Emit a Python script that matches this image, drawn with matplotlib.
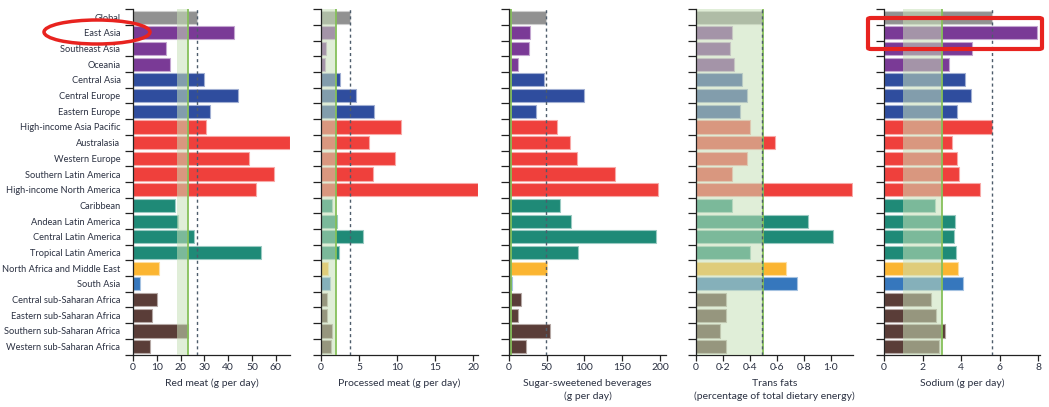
import matplotlib
matplotlib.use("Agg")
import matplotlib.pyplot as plt
from matplotlib.patches import Ellipse, FancyBboxPatch
from matplotlib.colors import to_rgb

regions = ["Global", "East Asia", "Southeast Asia", "Oceania", "Central Asia",
           "Central Europe", "Eastern Europe", "High-income Asia Pacific",
           "Australasia", "Western Europe", "Southern Latin America",
           "High-income North America", "Caribbean", "Andean Latin America",
           "Central Latin America", "Tropical Latin America",
           "North Africa and Middle East", "South Asia",
           "Central sub-Saharan Africa", "Eastern sub-Saharan Africa",
           "Southern sub-Saharan Africa", "Western sub-Saharan Africa"]
groups = ["global", "asia", "asia", "asia", "europe", "europe", "europe",
          "hi", "hi", "hi", "hi", "hi", "latam", "latam", "latam", "latam",
          "name", "sasia", "ssa", "ssa", "ssa", "ssa"]

red_meat = [27, 42.5, 13.9, 15.5, 30, 44, 32.4, 30.5, 66, 48.7, 59.3, 51.5,
            17.6, 19, 25.6, 53.8, 11, 3, 10, 8, 23.3, 7.3]
processed_meat = [3.8, 1.9, 0.66, 0.5, 2.5, 4.6, 6.9, 10.5, 6.3, 9.7, 6.8, 20.6,
                  1.5, 2.1, 5.5, 2.3, 0.9, 1.2, 0.8, 0.75, 1.45, 1.35]
ssb = [49, 28, 26.7, 12, 45.8, 100, 35.6, 64, 81, 89.8, 140, 197,
       68, 81.8, 194.7, 91, 50, 3.6, 16, 12, 54, 22]
trans_fats = [0.49, 0.267, 0.25, 0.28, 0.34, 0.38, 0.33, 0.40, 0.59, 0.38, 0.265, 1.16,
              0.267, 0.83, 1.02, 0.40, 0.665, 0.75, 0.22, 0.22, 0.175, 0.22]
sodium = [5.58, 7.9, 4.58, 3.35, 4.2, 4.5, 3.8, 5.6, 3.5, 3.78, 3.9, 4.97,
          2.64, 3.68, 3.63, 3.75, 3.82, 4.1, 2.45, 2.7, 3.18, 2.83]

xlabels = ["Red meat (g per day)", "Processed meat (g per day)",
           "Sugar-sweetened beverages\n(g per day)",
           "Trans fats\n(percentage of total dietary energy)",
           "Sodium (g per day)"]
xticks = [[0, 10, 20, 30, 40, 50, 60], [0, 5, 10, 15, 20], [0, 50, 100, 150, 200],
          [0, 0.2, 0.4, 0.6, 0.8, 1.0], [0, 2, 4, 6, 8]]
xticklabels = [["0", "10", "20", "30", "40", "50", "60"],
               ["0", "5", "10", "15", "20"],
               ["0", "50", "100", "150", "200"],
               ["0", "0·2", "0·4", "0·6", "0·8", "1·0"],
               ["0", "2", "4", "6", "8"]]
xmax = [66, 20.6, 208, 1.166, 8.08]
optimal_range = [(18.4, 23), (0, 2), (0, 3), (0, 0.5), (1, 3)]
optimal = [23, 2, 3, 0.5, 3]

colours = {"global": "#919191", "asia": "#7a3a96", "europe": "#2f4d9e",
           "hi": "#ef403c", "latam": "#1f8a77", "name": "#fbb531",
           "sasia": "#3677bd", "ssa": "#5a3d38"}

plt.rcParams["font.family"] = ["Lato", "DejaVu Sans"]
text_col = "#2b3142"

W, H = 1049, 407
fig = plt.figure(figsize=(W / 100, H / 100), dpi=100)

top_px, bottom_px = 9.3, 354.5
lefts = [133, 321, 509, 696, 884]
widths = [157, 157, 157, 157, 156]

series = [red_meat, processed_meat, ssb, trans_fats, sodium]
n = len(regions)
ypos = list(range(n))


def lighter(c, f=0.5):
    r, g, b = to_rgb(c)
    return (r + (1 - r) * f, g + (1 - g) * f, b + (1 - b) * f)


for i, vals in enumerate(series):
    ax = fig.add_axes([lefts[i] / W, 1 - bottom_px / H,
                       widths[i] / W, (bottom_px - top_px) / H])
    cols = [colours[g] for g in groups]
    ax.barh(ypos, vals, height=0.84, color=cols,
            edgecolor=[lighter(c, 0.55) for c in cols], linewidth=0.8, zorder=2)
    lo, hi = optimal_range[i]
    ax.axvspan(lo, hi, color="#c8e0b8", alpha=0.55, lw=0, zorder=3)
    ax.axvline(optimal[i], color="#86c05a", lw=1.3, zorder=4)
    ax.axvline(vals[0], color="#4d5c6b", lw=1.0, ls=(0, (2.2, 2.2)), zorder=5)

    ax.set_xlim(0, xmax[i])
    ax.set_ylim(n - 0.5, -0.5)
    ax.set_xticks(xticks[i])
    ax.set_xticklabels(xticklabels[i], fontsize=7.5, color=text_col)
    ax.tick_params(axis="x", length=4, width=0.9, pad=2, color="#222222")
    ax.set_yticks([y - 0.5 for y in range(n + 1)])
    ax.set_yticklabels([])
    ax.tick_params(axis="y", length=6, width=0.9, color="#222222")
    ax.set_yticks(ypos, minor=True)
    ax.tick_params(axis="y", which="minor", length=0, pad=9)
    if i == 0:
        ax.set_yticklabels(regions, minor=True, fontsize=6.7, color=text_col)
    ax.set_xlabel(xlabels[i], fontsize=7.5, color=text_col, labelpad=5,
                  linespacing=1.5)
    for s in ["top", "right"]:
        ax.spines[s].set_visible(False)
    for s in ["left", "bottom"]:
        ax.spines[s].set_linewidth(0.9)
        ax.spines[s].set_color("#222222")
    ax.spines["left"].set_zorder(6)

# red highlight marks
ell = Ellipse((97 / W, 1 - 32 / H), 106 / W, 24 / H, transform=fig.transFigure,
              fill=False, ec="#e8231f", lw=2.5)
fig.patches.append(ell)
box = FancyBboxPatch((868 / W, 1 - 49 / H), 174 / W, 31 / H,
                     boxstyle="round,pad=0,rounding_size=0.003",
                     transform=fig.transFigure, fill=False, ec="#e8231f", lw=3)
fig.patches.append(box)

fig.savefig("out.png", dpi=100)
